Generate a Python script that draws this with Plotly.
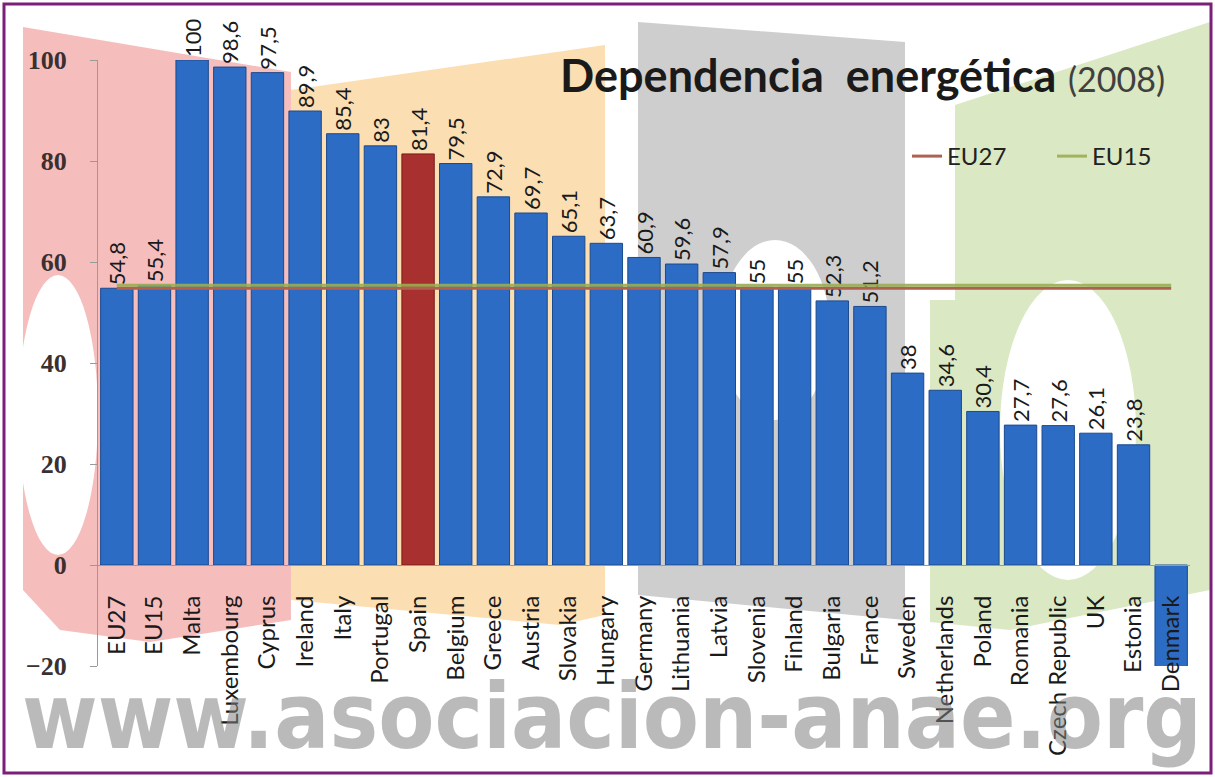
import plotly.graph_objects as go

# ---------------- data ----------------
categories = ["EU27", "EU15", "Malta", "Luxembourg", "Cyprus", "Ireland", "Italy",
              "Portugal", "Spain", "Belgium", "Greece", "Austria", "Slovakia",
              "Hungary", "Germany", "Lithuania", "Latvia", "Slovenia", "Finland",
              "Bulgaria", "France", "Sweden", "Netherlands", "Poland", "Romania",
              "Czech Republic", "UK", "Estonia", "Denmark"]
values = [54.8, 55.4, 100, 98.6, 97.5, 89.9, 85.4, 83, 81.4, 79.5, 72.9, 69.7, 65.1,
          63.7, 60.9, 59.6, 57.9, 55, 55, 52.3, 51.2, 38, 34.6, 30.4, 27.7,
          27.6, 26.1, 23.8, -20.5]
highlight = "Spain"
eu27_value = 54.8
eu15_value = 55.4
y_ticks = [-20, 0, 20, 40, 60, 80, 100]
title_main = "Dependencia  energética"
title_year = "(2008)"
watermark = "www.asociacion-anae.org"

# ---------------- geometry helpers ----------------
W, H = 1215, 777
L, R, T, B = 98, 25, 60, 111
PW, PH = W - L - R, H - T - B


def px(x):
    return (x - L) / PW


def py(y):
    return (H - B - y) / PH


def poly(points):
    return "M " + " L ".join(f"{px(x):.4f},{py(y):.4f}" for x, y in points) + " Z"


def ellipse(cx, cy, rx, ry, color):
    return dict(type="circle", xref="paper", yref="paper", layer="below",
                x0=px(cx - rx), x1=px(cx + rx), y0=py(cy + ry), y1=py(cy - ry),
                fillcolor=color, line=dict(width=0))


def fmt(v):
    return f"{v:g}".replace(".", ",")


BLUE = "#2d6cc5"
RED = "#a8302e"
bar_colors = [RED if c == highlight else BLUE for c in categories]
line_colors = ["#7a1d1d" if c == highlight else "#1b4a8e" for c in categories]
bar_text = [fmt(v) if v > 0 else "" for v in values]

fig = go.Figure()

fig.add_trace(go.Bar(
    x=categories, y=values,
    marker=dict(color=bar_colors, line=dict(color=line_colors, width=1)),
    text=bar_text, textposition="outside", textangle=-90,
    textfont=dict(family="Lato, Open Sans, sans-serif", size=22, color="#1a1a1a"),
    constraintext="none", cliponaxis=False, showlegend=False, hoverinfo="x+y",
))

fig.add_trace(go.Scatter(
    x=categories, y=[eu27_value] * len(categories), mode="lines", name="EU27",
    line=dict(color="#b0604e", width=3),
))
fig.add_trace(go.Scatter(
    x=categories, y=[eu15_value] * len(categories), mode="lines", name="EU15",
    line=dict(color="#9aae52", width=3), opacity=0.9,
))

shapes = [
    # pink
    dict(type="path", xref="paper", yref="paper", layer="below",
         path=poly([(23, 27), (291, 72), (291, 620), (150, 642), (60, 630), (23, 590)]),
         fillcolor="rgba(245,178,178,0.85)", line=dict(width=0)),
    # orange
    dict(type="path", xref="paper", yref="paper", layer="below",
         path=poly([(291, 90), (605, 45), (605, 615), (560, 625), (291, 600)]),
         fillcolor="rgba(251,216,166,0.85)", line=dict(width=0)),
    # gray
    dict(type="path", xref="paper", yref="paper", layer="below",
         path=poly([(638, 22), (905, 42), (905, 620), (638, 595)]),
         fillcolor="rgba(198,198,198,0.85)", line=dict(width=0)),
    # green
    dict(type="path", xref="paper", yref="paper", layer="below",
         path=poly([(955, 105), (1210, 22), (1210, 590), (1010, 630), (930, 622), (930, 300), (955, 300)]),
         fillcolor="rgba(214,229,190,0.9)", line=dict(width=0)),
    ellipse(58, 415, 40, 140, "white"),
    ellipse(775, 330, 55, 90, "white"),
    ellipse(1068, 430, 68, 150, "white"),
    # purple frame
    dict(type="rect", xref="paper", yref="paper", layer="above",
         x0=px(4), x1=px(1211), y0=py(773), y1=py(4),
         line=dict(color="#7a1f7a", width=3), fillcolor="rgba(0,0,0,0)"),
]

fig.update_layout(
    width=W, height=H,
    margin=dict(l=L, r=R, t=T, b=B),
    paper_bgcolor="white", plot_bgcolor="rgba(0,0,0,0)",
    bargap=0.14,
    shapes=shapes,
    title=dict(
        text=f"<b>{title_main}</b> <span style='font-size:34px;font-weight:normal;color:#404040'>{title_year}</span>",
        x=1165 / W, xanchor="right", xref="container",
        y=1 - 76 / H, yanchor="middle", yref="container",
        font=dict(family="Lato, Open Sans, sans-serif", size=45, color="#1a1a1a"),
    ),
    legend=dict(orientation="h", x=px(907), y=py(134), xanchor="left", yanchor="top",
                bgcolor="rgba(0,0,0,0)", entrywidth=100, entrywidthmode="pixels",
                font=dict(family="Lato, Open Sans, sans-serif", size=24, color="#222222")),
    yaxis=dict(range=[-20, 100], tickvals=y_ticks, showgrid=False, zeroline=False,
               showline=True, linecolor="#9a9a9a", linewidth=1,
               ticks="outside", ticklen=7, tickcolor="#9a9a9a",
               tickfont=dict(family="Liberation Serif, serif", size=26, color="#3a3030",
                             weight="bold"),
               ticklabelstandoff=18),
    xaxis=dict(type="category", anchor="free", position=(0 - (-20)) / 120,
               showline=True, linecolor="#9a9a9a", linewidth=1, showgrid=False,
               ticks="", tickangle=-90, ticklabelstandoff=20,
               tickfont=dict(family="Lato, Open Sans, sans-serif", size=24, color="#1a1a1a")),
    annotations=[dict(
        text=watermark, xref="paper", yref="paper", x=px(20), y=py(716),
        xanchor="left", yanchor="middle", showarrow=False,
        font=dict(family="DejaVu Sans Condensed, DejaVu Sans, sans-serif",
                  size=91, color="rgba(130,130,130,0.55)", weight="bold"),
    )],
)

fig.write_html("out.html")
